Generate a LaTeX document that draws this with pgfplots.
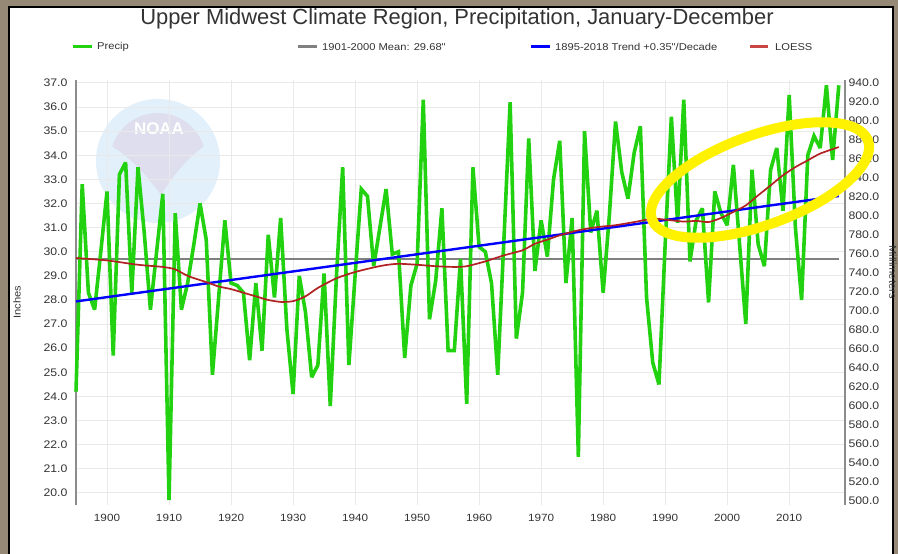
\documentclass[border=0pt]{standalone}
\usepackage{fontspec}
\setmainfont{Liberation Sans}
\newfontfamily\smallfont[FakeStretch=1.12]{Liberation Sans}
\usepackage{pgfplots}
\usepackage{pgfplotstable}
\pgfplotsset{compat=1.18}
\definecolor{precip}{RGB}{34,210,17}
\definecolor{meangray}{RGB}{128,128,128}
\definecolor{loess}{RGB}{178,34,34}
\definecolor{loessleg}{RGB}{200,70,70}
\definecolor{gridc}{RGB}{233,233,233}
\definecolor{axisgray}{RGB}{140,140,140}
\definecolor{txt}{RGB}{51,51,51}
\definecolor{framec}{RGB}{150,138,118}
\definecolor{logoblue}{RGB}{226,240,251}
\definecolor{logopurple}{RGB}{222,222,238}

\pgfplotstableread{
year precip
1895 24.2
1896 32.8
1897 28.3
1898 27.6
1899 30.0
1900 32.5
1901 25.7
1902 33.2
1903 33.7
1904 28.3
1905 33.5
1906 30.8
1907 27.6
1908 30.0
1909 32.4
1910 19.7
1911 31.6
1912 27.6
1913 28.7
1914 30.3
1915 32.0
1916 30.5
1917 24.9
1918 28.1
1919 31.3
1920 28.7
1921 28.6
1922 28.3
1923 25.5
1924 28.7
1925 25.9
1926 30.7
1927 28.1
1928 31.4
1929 26.8
1930 24.1
1931 29.0
1932 27.5
1933 24.8
1934 25.3
1935 29.1
1936 23.6
1937 29.0
1938 33.5
1939 25.3
1940 29.0
1941 32.6
1942 32.3
1943 29.4
1944 31.0
1945 32.6
1946 29.9
1947 30.0
1948 25.6
1949 28.6
1950 29.5
1951 36.3
1952 27.2
1953 28.8
1954 31.8
1955 25.9
1956 25.9
1957 29.7
1958 23.7
1959 33.5
1960 30.2
1961 30.0
1962 28.7
1963 24.9
1964 30.5
1965 36.2
1966 26.4
1967 28.3
1968 34.7
1969 29.2
1970 31.3
1971 29.8
1972 33.0
1973 34.6
1974 28.7
1975 31.4
1976 21.5
1977 35.0
1978 30.8
1979 31.7
1980 28.3
1981 31.5
1982 35.4
1983 33.3
1984 32.2
1985 34.1
1986 35.2
1987 28.1
1988 25.4
1989 24.5
1990 30.3
1991 35.6
1992 31.2
1993 36.3
1994 29.6
1995 31.3
1996 31.8
1997 27.9
1998 32.5
1999 31.6
2000 31.1
2001 33.6
2002 30.3
2003 27.0
2004 33.4
2005 30.3
2006 29.4
2007 33.4
2008 34.3
2009 31.7
2010 36.5
2011 31.0
2012 28.0
2013 34.0
2014 34.8
2015 34.3
2016 36.9
2017 33.8
2018 36.9
}\precipdata

\pgfplotstableread{
year loess
1895 29.74
1900 29.64
1905 29.46
1909 29.37
1911 29.27
1913 29.00
1916 28.74
1918 28.56
1920 28.45
1922 28.30
1924 28.15
1926 28.00
1928 27.92
1930 27.95
1932 28.15
1934 28.50
1937 28.90
1940 29.16
1943 29.35
1945 29.45
1947 29.50
1950 29.46
1953 29.40
1956 29.37
1958 29.40
1961 29.60
1964 29.85
1967 30.06
1969 30.33
1971 30.50
1973 30.68
1976 30.89
1979 31.02
1982 31.10
1985 31.23
1988 31.37
1990 31.33
1993 31.25
1995 31.28
1997 31.23
1999 31.40
2001 31.65
2003 31.92
2005 32.34
2007 32.75
2009 33.17
2011 33.51
2013 33.79
2015 34.07
2018 34.34
}\loessdata

\begin{document}
\begin{tikzpicture}[x=1bp,y=1bp]
\useasboundingbox (0,0) rectangle (898,-554);
\fill[framec] (0,0) rectangle (898,-554);
\fill[white] (9,-7) rectangle (893,-560);
\draw[black, line width=1.2bp] (9,-560) -- (9,-7) -- (893,-7) -- (893,-560);

% faint NOAA watermark
\fill[logoblue] (158,-161) circle[radius=62];
\begin{scope}
\clip (158,-161) circle[radius=48];
\fill[logopurple] (100,-100) -- (215,-100) -- (215,-140) .. controls (193,-150) and (173,-175) .. (161,-195) .. controls (143,-170) and (123,-150) .. (100,-140) -- cycle;
\end{scope}
\node[white, font=\bfseries\fontsize{17}{17}\selectfont] at (159,-129) {NOAA};

\begin{axis}[
  at={(76bp,-505bp)}, anchor=south west,
  scale only axis, width=769bp, height=425bp,
  xmin=1895, xmax=2019, ymin=19.5, ymax=37.12,
  axis x line*=bottom, axis y line*=left,
  x axis line style={draw=none},
  y axis line style={-, draw=axisgray, line width=2bp},
  xtick={1900,1910,...,2010}, ytick={20,21,...,37},
  grid=major, major grid style={draw=gridc, line width=1bp},
  major tick length=0pt,
  /pgf/number format/assume math mode=true,
  tick label style={font=\smallfont\fontsize{11}{12}\selectfont, text=txt},
  xticklabel style={/pgf/number format/1000 sep={}, yshift=-6bp, font=\smallfont\fontsize{10.5}{12}\selectfont},
  yticklabel style={/pgf/number format/.cd, fixed, fixed zerofill, precision=1, /tikz/xshift=-5bp},
  clip=false,
]
\addplot[meangray, line width=2bp] coordinates {(1895,29.68) (2018,29.68)};
\addplot[precip, line width=3.6bp, line join=miter, miter limit=3] table[x=year, y=precip] {\precipdata};
\addplot[blue, line width=2.4bp] coordinates {(1895,27.94) (2018,32.31)};
\addplot[loess, line width=1.7bp, smooth, tension=0.4] table[x=year, y=loess] {\loessdata};
\end{axis}

\begin{axis}[
  at={(76bp,-505bp)}, anchor=south west,
  scale only axis, width=769bp, height=425bp,
  xmin=1895, xmax=2019, ymin=495.3, ymax=942.85,
  axis y line*=right, axis x line=none,
  y axis line style={-, draw=axisgray, line width=2bp},
  ytick={500,520,...,940},
  major tick length=0pt,
  /pgf/number format/assume math mode=true,
  tick label style={font=\smallfont\fontsize{11}{12}\selectfont, text=txt},
  yticklabel style={/pgf/number format/.cd, fixed, fixed zerofill, precision=1, 1000 sep={}},
]
\end{axis}

% title and legend
\node[text=txt, font=\fontsize{22}{24}\selectfont] at (457,-19) {Upper Midwest Climate Region, Precipitation, January-December};
\begin{scope}[font=\smallfont\fontsize{10}{12}\selectfont, text=txt]
\draw[precip, line width=3bp] (73,-47) -- (92,-47);
\node[anchor=west, inner sep=0] at (97,-47) {Precip};
\draw[meangray, line width=3bp] (298,-47) -- (317,-47);
\node[anchor=west, inner sep=0] at (322,-47) {1901-2000 Mean: 29.68"};
\draw[blue, line width=3bp] (531,-47) -- (550,-47);
\node[anchor=west, inner sep=0] at (555,-47) {1895-2018 Trend +0.35"/Decade};
\draw[loessleg, line width=3bp] (750,-47) -- (768,-47);
\node[anchor=west, inner sep=0] at (775,-47) {LOESS};
\end{scope}

% axis titles
\node[rotate=90, text=txt, font=\smallfont\fontsize{10}{12}\selectfont] at (17,-302) {Inches};
\node[rotate=-90, text=txt, font=\smallfont\fontsize{10}{12}\selectfont] at (893,-272) {Millimeters};

% yellow annotation ellipse
\draw[yellow, line width=10bp, rotate around={20:(760,-180)}] (760,-180) ellipse[x radius=115, y radius=45];
\end{tikzpicture}
\end{document}
